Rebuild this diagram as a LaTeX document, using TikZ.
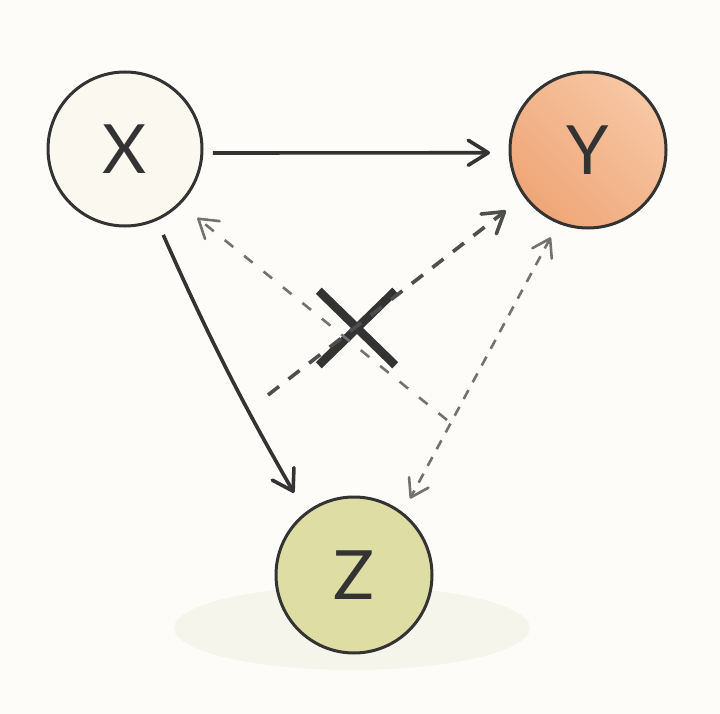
\documentclass[tikz,border=0pt]{standalone}
\usepackage{fontspec}
\setmainfont{Lato}
\usetikzlibrary{arrows.meta,shapes.misc}
\definecolor{bgc}{HTML}{FDFCF8}
\definecolor{inkc}{HTML}{333333}
\definecolor{xfill}{HTML}{FAF8EF}
\definecolor{yfillA}{HTML}{EFA677}
\definecolor{yfillB}{HTML}{F7C7A4}
\definecolor{zfill}{HTML}{DEDDA4}
\definecolor{dashdark}{HTML}{4E4E4E}
\definecolor{dashlight}{HTML}{727272}
\definecolor{shadowc}{HTML}{F6F5EC}
\begin{document}
\begin{tikzpicture}[x=1pt,y=-1pt,
  vnode/.style={circle, draw=inkc, line width=3pt, minimum size=154pt, inner sep=0pt, outer sep=0pt,
    font=\fontsize{68}{70}\selectfont, text=inkc},
  tipk/.style={-{Straight Barb[length=20pt,width=25pt,round]}},
  solidarrow/.style={tipk, draw=inkc, line width=3.6pt},
  darkdashed/.style={tipk, draw=dashdark, line width=3.6pt, dash pattern=on 14pt off 12pt},
  lightdashed/.style={-{Straight Barb[length=18pt,width=23pt,round]}, draw=dashlight, line width=2.6pt, dash pattern=on 11pt off 14pt},
  bidashed/.style={{Straight Barb[length=17pt,width=22pt,round]}-{Straight Barb[length=17pt,width=22pt,round]}, draw=dashlight, line width=2.6pt, dash pattern=on 10pt off 9pt},
  crossmark/.style={cross out, draw=inkc, line width=8.5pt, minimum width=68pt, minimum height=66pt, inner sep=0pt}
]
\fill[bgc] (0,0) rectangle (720,714);
\useasboundingbox (0,0) rectangle (720,714);
% faint shadow under Z
\fill[shadowc] (352,628) ellipse (178pt and 42pt);
\node[vnode, fill=xfill] (X) at (125,149) {X};
\node[vnode, left color=yfillA, right color=yfillB, shading angle=135, minimum size=156pt] (Y) at (588,150) {Y};
\node[vnode, fill=zfill, minimum size=156pt] (Z) at (354,575) {Z};
\coordinate (a) at (447,420);
\coordinate (b) at (268,395);
\node[crossmark] (nox) at (357,328) {};
% edges
\draw[solidarrow, shorten <=11pt, shorten >=20pt] (X.-3) -- (Y.182);
\draw[solidarrow, shorten <=17pt, shorten >=24pt] (X.-66) to[bend right=3] (Z.128);
\draw[lightdashed, shorten >=23pt] (a) -- (X.-45);
\draw[darkdashed, shorten >=24pt] (b) -- (Y.216);
\draw[bidashed, shorten <=17pt, shorten >=17pt] (Y.248) -- (Z.52);
\end{tikzpicture}
\end{document}
